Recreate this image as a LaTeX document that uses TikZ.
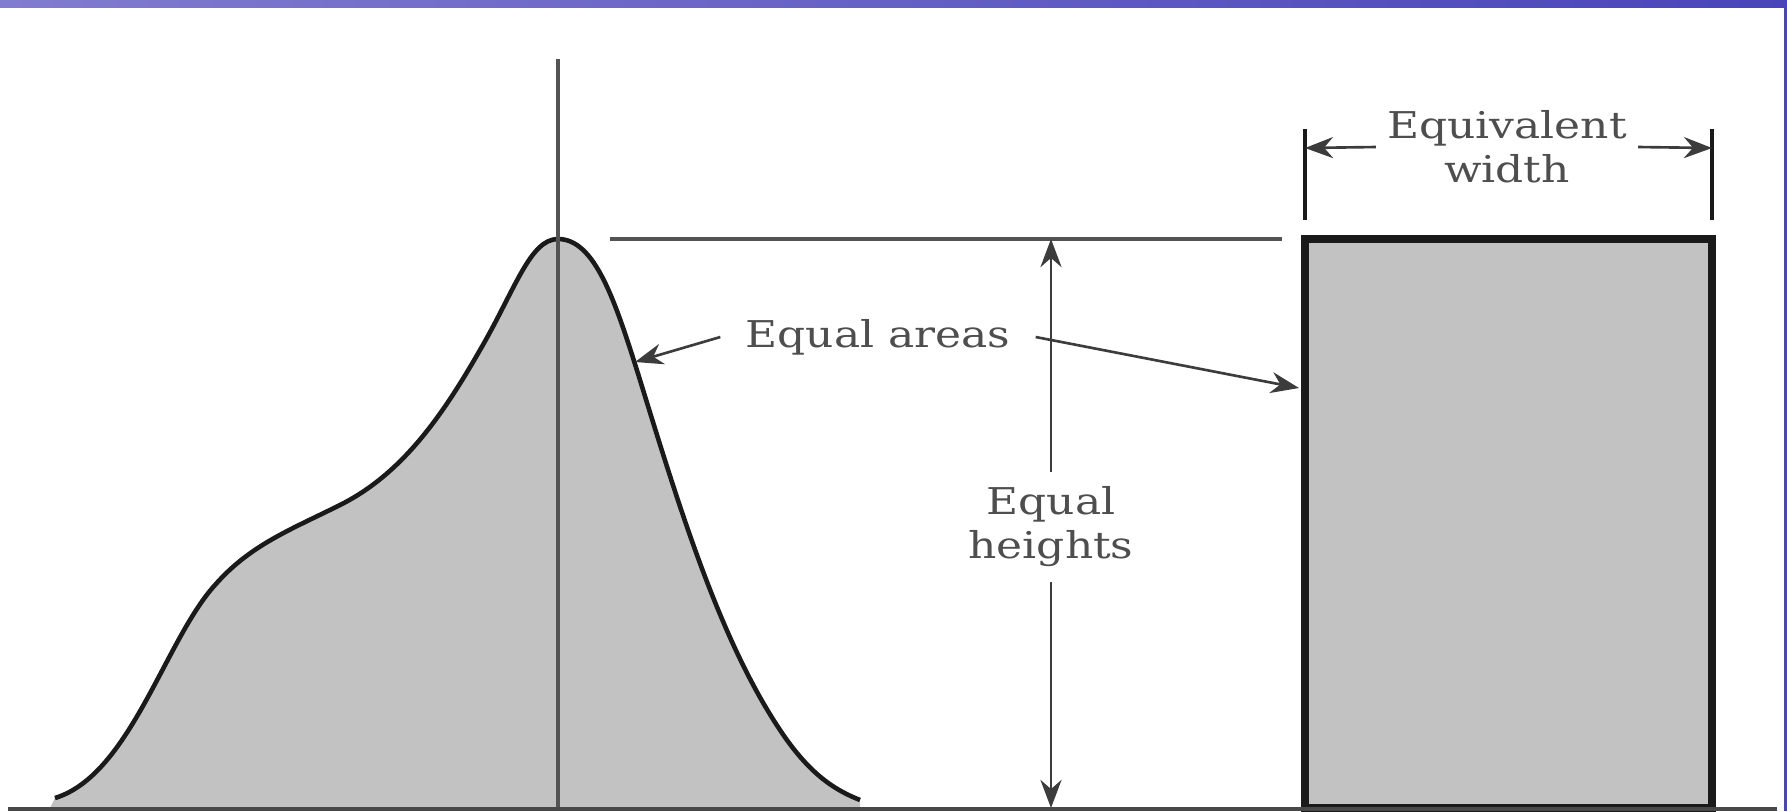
\documentclass[tikz,border=0pt]{standalone}
\usepackage{fontspec}
\setmainfont{DejaVu Serif}[FakeStretch=1.19]
\usepackage{tikz}
\usetikzlibrary{arrows.meta, calc}
\definecolor{barblue}{HTML}{4A44BA}
\definecolor{shadegray}{HTML}{C2C2C2}
\definecolor{ink}{HTML}{1A1A1A}
\definecolor{muted}{HTML}{4E4E4E}

\begin{document}
\begin{tikzpicture}[x=0.01cm, y=-0.01cm,
      every node/.style={font=\fontsize{10.5}{12.5}\selectfont, color=muted},
      lbl/.style={align=center, inner sep=4pt},
      arr/.style={-{Stealth[length=8pt, width=6pt]}, line width=0.75pt, color=ink!85},
      guide/.style={line width=0.9pt, color=ink!75},
      bell/.style={line width=1.3pt, color=ink},
      tick/.style={line width=1pt, color=ink}]

    \useasboundingbox (0,0) rectangle (1787,811);
    \shade[left color=barblue!70, right color=barblue] (0,0) rectangle (1787,7);
    \fill[barblue] (1784,0) rectangle (1787,811);

    % profile and its equivalent rectangle
    \fill[shadegray] (55,798) .. controls (130,775) and (165,640) .. (215,585)
      .. controls (250,545) and (290,530) .. (340,505)
      .. controls (400,475) and (440,420) .. (480,350)
      .. controls (515,290) and (530,239) .. (558,239)
      .. controls (595,239) and (615,300) .. (640,380)
      .. controls (680,510) and (720,640) .. (780,730)
      .. controls (810,775) and (835,790) .. (860,800)
      -- (860,808) -- (50,808) -- cycle;
    \draw[bell] (55,798) .. controls (130,775) and (165,640) .. (215,585)
      .. controls (250,545) and (290,530) .. (340,505)
      .. controls (400,475) and (440,420) .. (480,350)
      .. controls (515,290) and (530,239) .. (558,239)
      .. controls (595,239) and (615,300) .. (640,380)
      .. controls (680,510) and (720,640) .. (780,730)
      .. controls (810,775) and (835,790) .. (860,800);
    \draw[line width=2.2pt, draw=ink, fill=shadegray] (1305,239) rectangle (1712,808);

    \draw[guide] (558,59) -- (558,808);
    \draw[guide] (610,239) -- (1282,239);
    \draw[line width=1pt, color=ink!80] (8,809) -- (1777,809);

    % equal heights
    \node[lbl] (heights) at (1051,527) {Equal\\heights};
    \coordinate (htop) at (1051,239);
    \coordinate (hbot) at (1051,808);
    \draw[arr] (heights.north) -- (htop);
    \draw[arr] (heights.south) -- (hbot);

    % equal areas
    \node[lbl, inner sep=7pt] (areas) at (878,337) {Equal areas};
    \coordinate (onbell) at (635,362);
    \coordinate (onrect) at (1299,388);
    \draw[arr] (areas.west) -- (onbell);
    \draw[arr] (areas.east) -- (onrect);

    % equivalent width
    \draw[tick] (1305,129) -- (1305,220);
    \draw[tick] (1712,129) -- (1712,220);
    \node[lbl, inner sep=3pt] (eqw) at (1507,147) {Equivalent\\width};
    \coordinate (wl) at (1305,148);
    \coordinate (wr) at (1712,148);
    \draw[arr] (eqw.west) -- (wl);
    \draw[arr] (eqw.east) -- (wr);
  \end{tikzpicture}
\end{document}
